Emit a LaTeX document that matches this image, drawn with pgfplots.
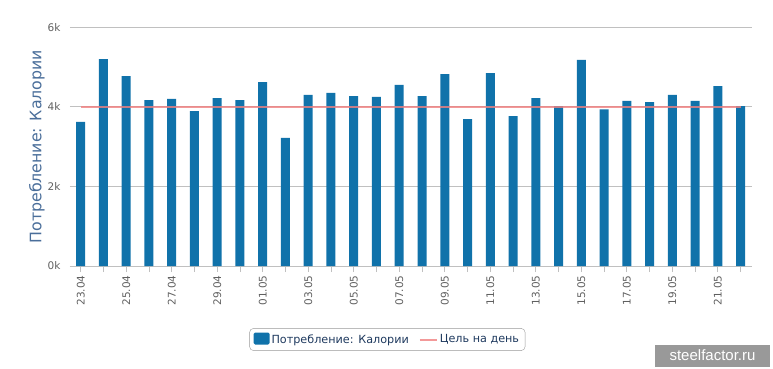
\documentclass[border=0pt]{standalone}
\usepackage{fontspec}
\setmainfont{DejaVu Sans}
\newfontfamily\wmfont{Liberation Sans}
\usepackage{pgfplots}
\usepackage{pgfplotstable}
\pgfplotsset{compat=1.18}
\definecolor{barblue}{HTML}{1072AA}
\definecolor{goalred}{HTML}{F08080}
\definecolor{gridgray}{HTML}{C0C0C0}
\definecolor{ticktext}{HTML}{606060}
\definecolor{labelblue}{HTML}{4A6E9A}
\definecolor{legtext}{HTML}{1F3A5F}

\pgfplotstableread{
x y
0 3620
1 5200
2 4770
3 4170
4 4200
5 3890
6 4220
7 4170
8 4620
9 3220
10 4300
11 4350
12 4270
13 4250
14 4550
15 4270
16 4820
17 3690
18 4850
19 3770
20 4220
21 4020
22 5180
23 3940
24 4150
25 4120
26 4300
27 4150
28 4520
29 4020
}\calories

\pgfplotstableread{
x y
0 4000
29 4000
}\goal

\begin{document}
\begin{tikzpicture}
\path[use as bounding box] (-70pt,-103pt) rectangle (703pt,266pt);
\begin{axis}[
  at={(0pt,0pt)}, anchor=south west,
  scale only axis, width=681.7pt, height=238.7pt,
  xmin=-0.47, xmax=29.49, ymin=0, ymax=6000,
  axis x line*=bottom, axis y line*=left,
  y axis line style={draw=none},
  x axis line style={gridgray, line width=0.8pt, -},
  xtick={0,...,29},
  xticklabels={23.04,,25.04,,27.04,,29.04,,01.05,,03.05,,05.05,,07.05,,09.05,,11.05,,13.05,,15.05,,17.05,,19.05,,21.05,},
  x tick label style={rotate=90, anchor=east, font=\fontsize{10.5}{12}\selectfont, text=ticktext},
  tick align=outside, major tick length=6pt,
  xtick style={gridgray, line width=0.8pt},
  ytick={0,2000,4000,6000}, yticklabels={0k,2k,4k,6k},
  ytick style={draw=none},
  y tick label style={font=\fontsize{10.5}{12}\selectfont, text=ticktext},
  /pgf/number format/assume math mode=true,
  ymajorgrids, grid style={gridgray, line width=0.8pt},
  ylabel={Потребление: Калории},
  every axis y label/.style={at={(axis description cs:0,0.5)}, xshift=-33pt, rotate=90, anchor=center, font=\fontsize{15.8}{18}\selectfont, text=labelblue},
  legend style={at={(axis description cs:0.4655,0)}, yshift=-73.5pt, anchor=center,
    legend columns=2, rounded corners=4pt, draw=gray!80, font=\fontsize{11.2}{13}\selectfont,
    text=legtext, inner xsep=4pt, inner ysep=4pt,
    /tikz/every even column/.append style={column sep=8pt}},
]
\addplot[ybar, bar width=9pt, fill=barblue, draw=none,
  legend image code/.code={\fill[barblue, rounded corners=1.5pt] (0pt,-5pt) rectangle (16pt,7pt);}]
  table[x=x, y=y] {\calories};
\addlegendentry{Потребление: Калории}
\addplot[goalred, line width=2pt, opacity=0.8, mark=none] table[x=x, y=y] {\goal};
\addlegendentry{Цель на день}
\end{axis}
\node[fill=gray!80, text=white, font=\wmfont\fontsize{15}{17}\selectfont, minimum width=115pt, minimum height=22pt, inner sep=0pt] at (642.5pt,-89.5pt) {steelfactor.ru};
\end{tikzpicture}
\end{document}
